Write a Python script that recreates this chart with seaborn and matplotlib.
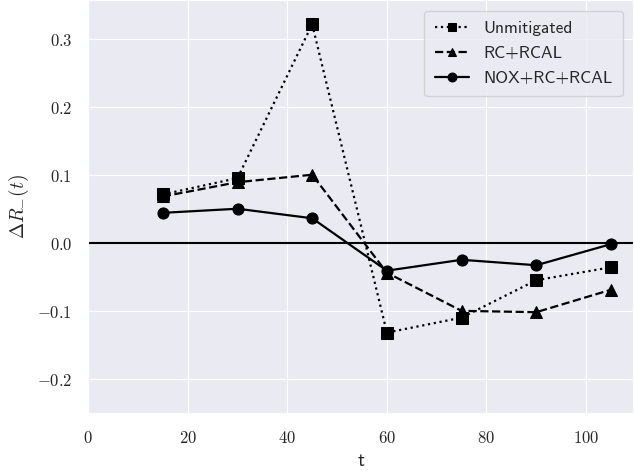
import pandas as pd
import numpy as np
import matplotlib
matplotlib.use('Agg')
import matplotlib.pyplot as plt
import seaborn as sns
from matplotlib.ticker import FuncFormatter

# Datos
t = [15, 30, 45, 60, 75, 90, 105]
unmitigated = [0.071, 0.095, 0.321, -0.132, -0.110, -0.055, -0.036]
rc_rcal = [0.068, 0.089, 0.100, -0.044, -0.100, -0.102, -0.069]
nox_rc_rcal = [0.044, 0.050, 0.036, -0.041, -0.025, -0.033, -0.002]

labels = ['Unmitigated', 'RC+RCAL', 'NOX+RC+RCAL']
estilos = [':', '--', '-']
marcas = ['s', '^', 'o']

df = pd.DataFrame({
    't': t * 3,
    'dR': unmitigated + rc_rcal + nox_rc_rcal,
    'serie': [labels[0]] * 7 + [labels[1]] * 7 + [labels[2]] * 7,
})

sns.set_style('darkgrid')
plt.rcParams['mathtext.fontset'] = 'cm'
plt.rcParams['axes.unicode_minus'] = True

fig, ax = plt.subplots(figsize=(6.34, 4.73), dpi=100)
fig.subplots_adjust(left=0.139, right=0.999, top=0.999, bottom=0.127)

for lab, ls, mk in zip(labels, estilos, marcas):
    sub = df[df['serie'] == lab]
    sns.lineplot(data=sub, x='t', y='dR', ax=ax, color='black', linestyle=ls,
                 marker=mk, markersize=8, linewidth=1.6, label=lab,
                 markeredgecolor='black')

ax.axhline(0, color='black', linewidth=1.5)
ax.set_xlim(0, 109.5)
ax.set_ylim(-0.25, 0.356)
ax.set_xticks([0, 20, 40, 60, 80, 100])
ax.set_yticks([-0.2, -0.1, 0.0, 0.1, 0.2, 0.3])
ax.xaxis.set_major_formatter(FuncFormatter(lambda v, p: f'${v:.0f}$'))
ax.yaxis.set_major_formatter(FuncFormatter(lambda v, p: f'${v:.1f}$'))
ax.tick_params(labelsize=12, pad=8)

ax.set_xlabel('t', fontsize=14, family=['cmss10', 'DejaVu Sans'])
ax.set_ylabel(r'$\Delta R_{-}(t)$', fontsize=14)

leg = ax.legend(loc='upper right', prop={'family': ['cmss10', 'DejaVu Sans'], 'size': 12.5},
                handlelength=2.0, handletextpad=0.8, labelspacing=0.55,
                borderpad=0.6, markerscale=0.8, borderaxespad=0.6)

plt.savefig('out.png', dpi=100)
